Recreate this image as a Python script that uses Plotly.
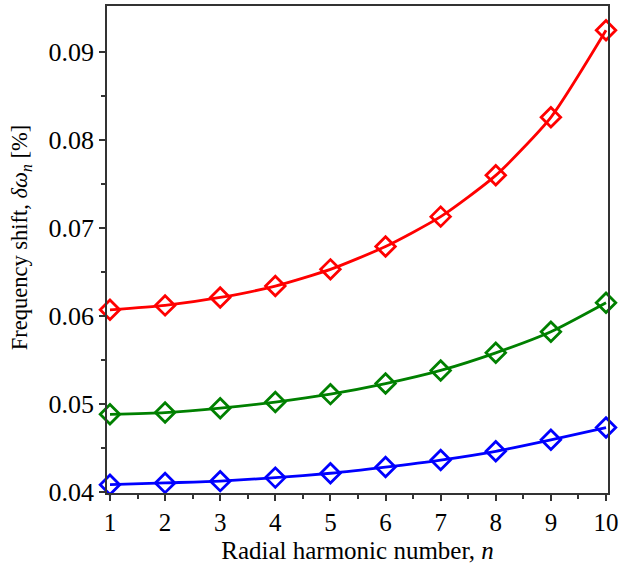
import plotly.graph_objects as go

n = [1, 2, 3, 4, 5, 6, 7, 8, 9, 10]
red = [0.0607, 0.0612, 0.0621, 0.0634, 0.0653, 0.0679, 0.0713, 0.0760, 0.0826, 0.0925]
green = [0.0488, 0.0490, 0.0495, 0.0502, 0.0511, 0.0523, 0.0538, 0.0558, 0.0582, 0.0615]
blue = [0.0408, 0.0410, 0.0412, 0.0416, 0.0421, 0.0428, 0.0436, 0.0446, 0.0459, 0.0473]
ytickvals = [0.04, 0.05, 0.06, 0.07, 0.08, 0.09]
yticktext = ["0.04", "0.05", "0.06", "0.07", "0.08", "0.09"]

fig = go.Figure()
for ys, col in [(red, "#ff0000"), (green, "#008000"), (blue, "#0000ff")]:
    fig.add_trace(go.Scatter(
        x=n, y=ys, mode="lines+markers",
        line=dict(color=col, width=2.8, shape="spline", smoothing=0.6),
        marker=dict(symbol="diamond-open", size=15, color=col, line=dict(width=2.8, color=col)),
        showlegend=False, cliponaxis=False,
    ))

font = "Liberation Serif"
fig.update_layout(
    width=623, height=564,
    margin=dict(l=107, r=11, t=4, b=68),
    plot_bgcolor="white", paper_bgcolor="white",
    font=dict(family=font, size=24, color="black"),
    xaxis=dict(
        range=[0.946, 10.036], tickvals=n, ticks="outside", ticklen=6, tickwidth=1.5,
        tickcolor="#333", showline=True, linecolor="#333", linewidth=1.5, mirror=True,
        showgrid=False, zeroline=False, tickfont=dict(family=font, size=25),
        minor=dict(tickvals=[x + 0.5 for x in n[:-1]], ticks="outside", ticklen=4, tickcolor="#333", showgrid=False),
        title=dict(text="Radial harmonic number, <i>n</i>", font=dict(family=font, size=25), standoff=7),
    ),
    yaxis=dict(
        range=[0.03985, 0.09527], tickvals=ytickvals, ticktext=yticktext, ticks="outside",
        ticklen=6, tickwidth=1.5, tickcolor="#333", showline=True, linecolor="#333", linewidth=1.5,
        mirror=True, showgrid=False, zeroline=False, tickfont=dict(family=font, size=26),
        minor=dict(tickvals=[0.045, 0.055, 0.065, 0.075, 0.085], ticks="outside", ticklen=4, tickcolor="#333", showgrid=False),
    ),
    annotations=[dict(
        text="Frequency shift, <i>δω</i><sub><i>n</i></sub> [%]",
        textangle=-90, xref="paper", yref="paper",
        x=-107 / 505 + 20 / 505, y=(496 - 238) / 492,
        xanchor="center", yanchor="middle", showarrow=False,
        font=dict(family=font, size=22.5),
    )],
)
fig.write_html("out.html")
